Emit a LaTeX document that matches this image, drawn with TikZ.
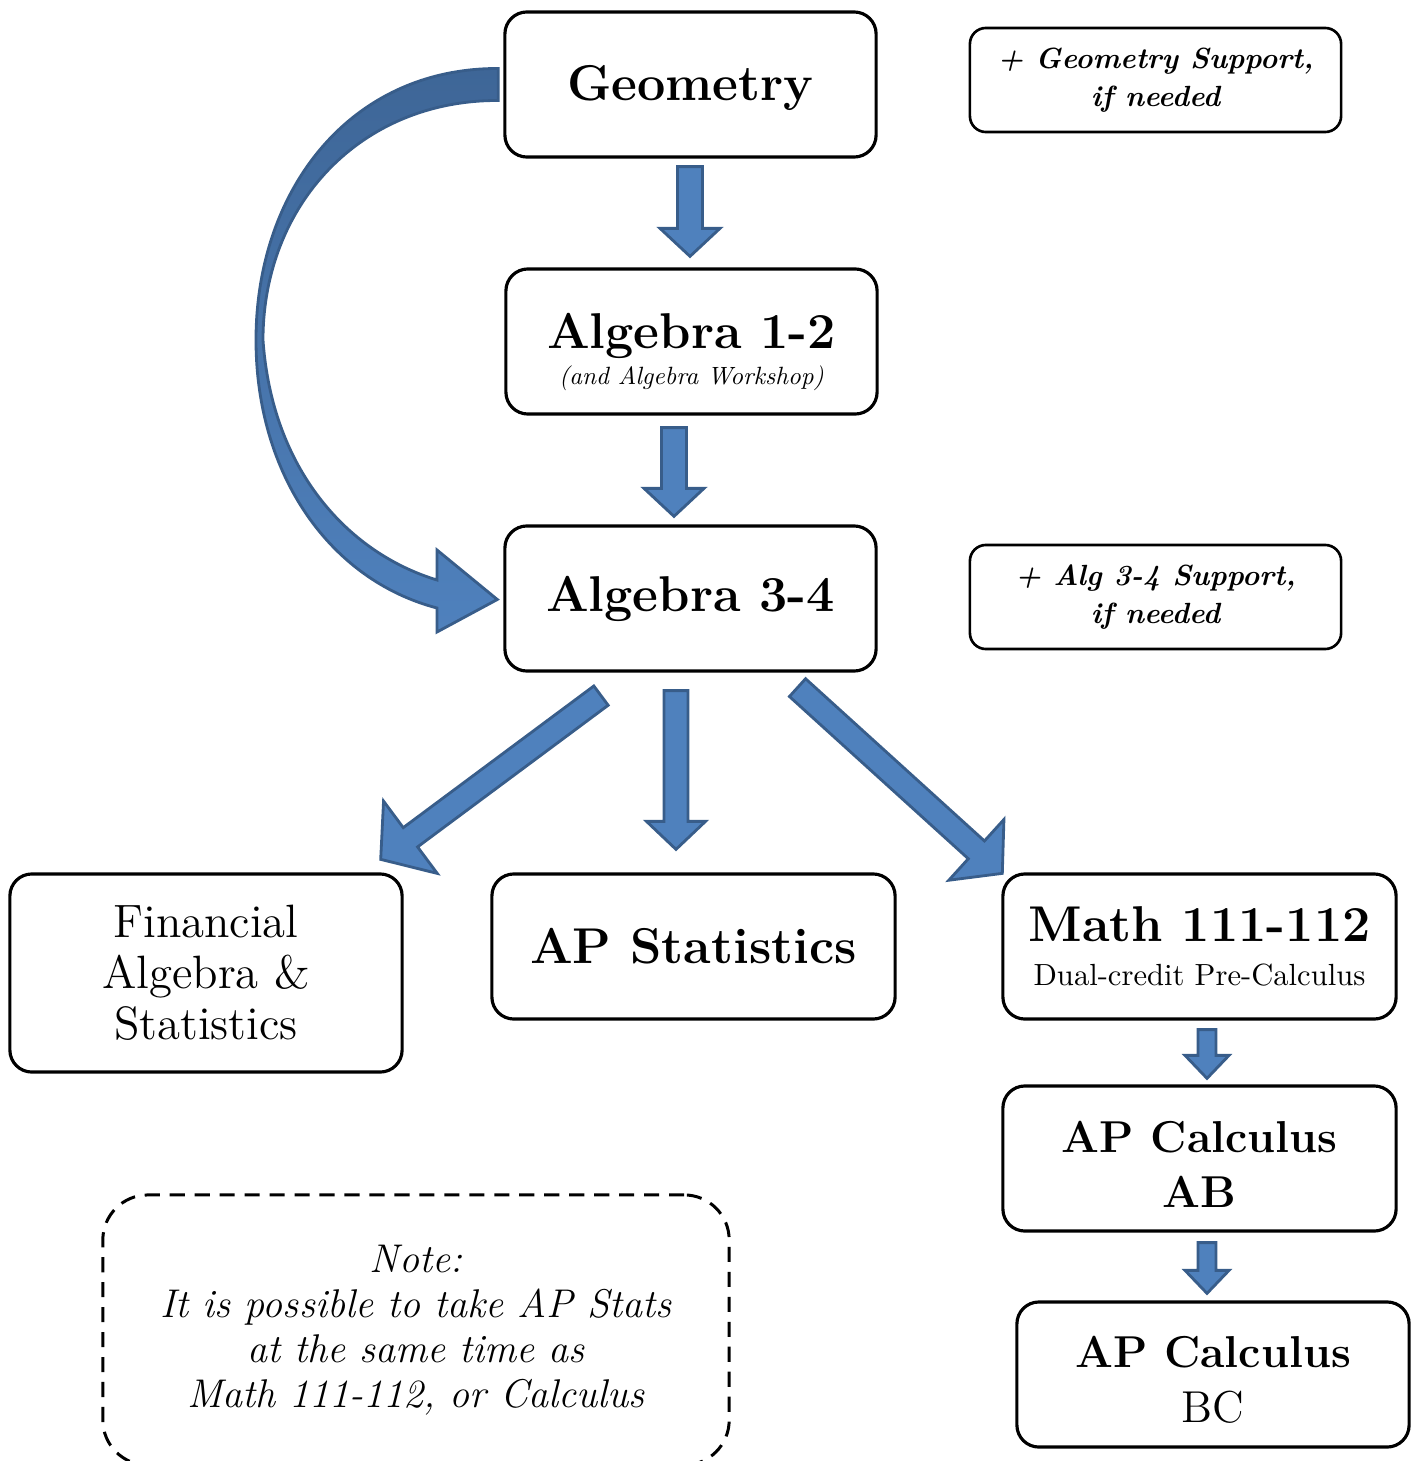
\documentclass[tikz,border=0pt]{standalone}
\usepackage{fontspec}
\usetikzlibrary{calc}

\newfontface\lmtenit{lmroman10-italic.otf}
\newfontface\lmtenrm{lmroman10-regular.otf}

\definecolor{arrowfill}{HTML}{4F81BD}
\definecolor{arrowline}{HTML}{385D8A}
\definecolor{arrowdark}{HTML}{3E6697}

\newcommand\coursefont{\bfseries\fontsize{14.3}{16.5}\selectfont}
\newcommand\finfont{\fontsize{13.3}{14.5}\selectfont}
\newcommand\calcfont{\fontsize{12.7}{15.6}\selectfont}
\newcommand\subtitlefont{\lmtenit\fontsize{7.1}{8.5}\selectfont}
\newcommand\dualfont{\lmtenrm\fontsize{8.7}{10}\selectfont}

% tail, tip, half shaft width, half head width, head length
\newcommand\blockarrow[5]{%
  \coordinate (ba-base) at ($(#2)!#5!(#1)$);
  \draw[barrow] ($(#1)!#3!90:(#2)$) -- ($(ba-base)!#3!90:(#2)$) -- ($(ba-base)!#4!90:(#2)$) -- (#2)
    -- ($(ba-base)!#4!-90:(#2)$) -- ($(ba-base)!#3!-90:(#2)$) -- ($(#1)!#3!-90:(#2)$) -- cycle;
}

\begin{document}
\begin{tikzpicture}[x=0.01cm, y=-0.01cm,
  course/.style={draw, line width=0.9pt, rounded corners=0.22cm, align=center, inner sep=0pt,
    minimum width=3.71cm, minimum height=1.45cm},
  support/.style={course, minimum height=1.04cm, rounded corners=0.16cm, line width=0.75pt,
    font=\bfseries\itshape\fontsize{8.3}{10.8}\selectfont},
  notebox/.style={draw, dashed, dash pattern=on 4.3pt off 2.8pt, line width=0.85pt,
    rounded corners=0.45cm, align=center, inner sep=0pt, minimum width=6.26cm, minimum height=2.7cm,
    font=\itshape\fontsize{11.4}{12.8}\selectfont},
  barrow/.style={fill=arrowfill, draw=arrowline, line width=0.8pt},
  bentarrow/.style={draw=arrowline, line width=0.8pt, top color=arrowdark, bottom color=arrowfill}]

  \useasboundingbox (0,0) rectangle (1418,1461);
  \clip (0,0) rectangle (1418,1461);

  % courses
  \node[course, font=\coursefont] (geo) at (690.5,84.5) {\rule{0pt}{12pt}Geometry};
  \node[course, font=\coursefont] (alg12) at (691.5,341.5)
    {\rule{0pt}{16pt}Algebra 1-2\\[-6pt]{\subtitlefont (and Algebra Workshop)}};
  \node[course, font=\coursefont] (alg34) at (690.5,598.5) {Algebra 3-4};
  \node[support] (geosup) at (1155.5,80) {+ Geometry Support,\\if needed};
  \node[support] (algsup) at (1155.5,597) {+ Alg 3-4 Support,\\if needed};
  \node[course, minimum width=3.92cm, minimum height=1.98cm, font=\finfont] (fin) at (206,973)
    {Financial\\Algebra \&\\Statistics};
  \node[course, minimum width=4.03cm, font=\coursefont] (apstat) at (693.5,946.5) {AP Statistics};
  \node[course, minimum width=3.93cm, font=\coursefont] (math) at (1199.5,946.5)
    {Math 111-112\\[-4pt]{\dualfont Dual-credit Pre-Calculus}};
  \node[course, minimum width=3.93cm, font=\calcfont] (calcab) at (1199.5,1158.5)
    {{\bfseries \rule{0pt}{12pt}AP Calculus}\\{\bfseries AB}};
  \node[course, minimum width=3.92cm, font=\calcfont] (calcbc) at (1213,1374.5)
    {{\bfseries \rule{0pt}{12pt}AP Calculus}\\BC};

  % note
  \node[notebox] (note) at (416,1330)
    {Note:\\It is possible to take AP Stats\\at the same time as\\Math 111-112, or Calculus};

  % straight arrows
  \coordinate (t1) at ($(geo.south)+(-0.5,8)$);
  \coordinate (h1) at ($(alg12.north)+(-1.5,-11)$);
  \coordinate (t2) at ($(alg12.south)+(-17.5,12)$);
  \coordinate (h2) at ($(alg34.north)+(-16.5,-8)$);
  \coordinate (t3) at ($(alg34.south)+(-14.5,18)$);
  \coordinate (h3) at ($(apstat.north)+(-17.5,-23)$);
  \coordinate (t4) at ($(alg34.south)+(-89.5,23)$);
  \coordinate (h4) at ($(fin.north east)+(-23,-13)$);
  \coordinate (t5) at ($(alg34.south)+(107,15)$);
  \coordinate (h5) at ($(math.north west)+(1,1)$);
  \coordinate (t6) at ($(math.south)+(7.5,9)$);
  \coordinate (h6) at ($(calcab.north)+(7.5,-6)$);
  \coordinate (t7) at ($(calcab.south)+(7.5,10)$);
  \coordinate (h7) at ($(calcbc.north)+(-6,-7)$);

  \blockarrow{t1}{h1}{1.25mm}{3mm}{2.8mm}
  \blockarrow{t2}{h2}{1.25mm}{3mm}{2.8mm}
  \blockarrow{t3}{h3}{1.2mm}{2.95mm}{2.8mm}
  \blockarrow{t4}{h4}{1.2mm}{4.5mm}{3.7mm}
  \blockarrow{t5}{h5}{1.2mm}{4.1mm}{3.5mm}
  \blockarrow{t6}{h6}{0.9mm}{2.2mm}{2.3mm}
  \blockarrow{t7}{h7}{0.9mm}{2.2mm}{2.3mm}

  % bent arrow Geometry -> Algebra 3-4
  \coordinate (bend-out) at ($(geo.west)+(-5,-16)$);
  \coordinate (bend-in) at ($(geo.west)+(-5,16)$);
  \coordinate (bend-tip) at ($(alg34.west)+(-6,1)$);
  \path[bentarrow] (bend-out) .. controls (350,68) and (256,190) .. (256,340)
    .. controls (256,475) and (330,580) .. (437,608) -- (437,632) -- (bend-tip) -- (437,550) -- (437,580)
    .. controls (348,553) and (272,470) .. (263,340) .. controls (263,205) and (360,100) .. (bend-in) -- cycle;
\end{tikzpicture}
\end{document}
